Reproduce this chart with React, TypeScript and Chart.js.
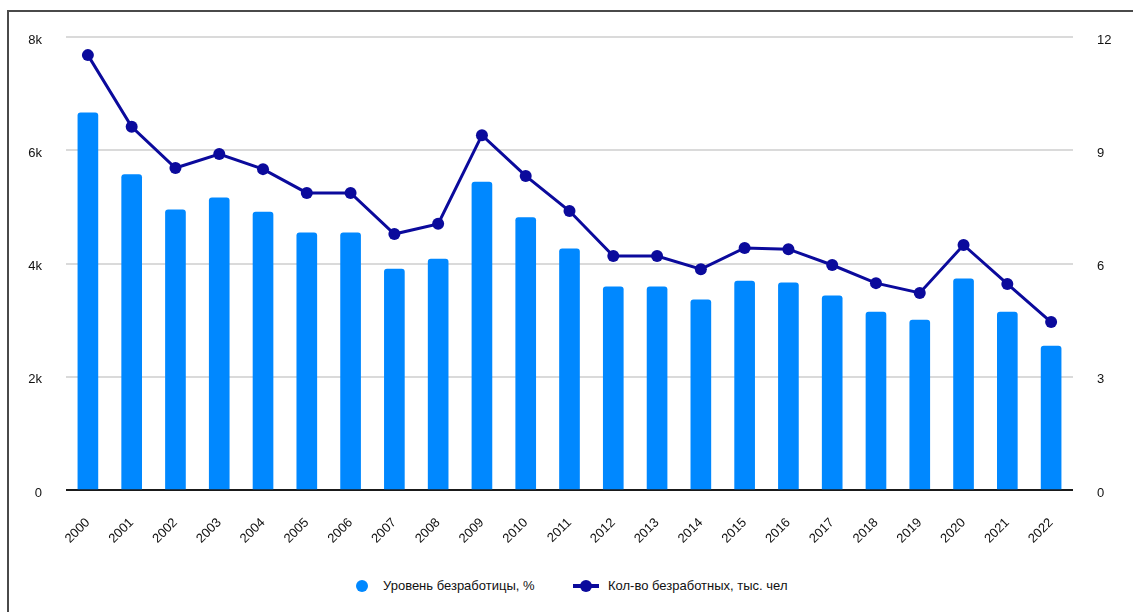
import React, { useEffect, useRef } from "react";
import { Chart, registerables } from "chart.js";

Chart.register(...registerables);

const years = ["2000","2001","2002","2003","2004","2005","2006","2007","2008","2009","2010","2011","2012","2013","2014","2015","2016","2017","2018","2019","2020","2021","2022"];
const rateValues = [6660, 5570, 4950, 5160, 4910, 4540, 4540, 3900, 4080, 5440, 4810, 4260, 3590, 3590, 3360, 3690, 3660, 3430, 3140, 3000, 3730, 3140, 2540];
const countValues = [11.52, 9.62, 8.53, 8.9, 8.5, 7.87, 7.87, 6.78, 7.05, 9.4, 8.32, 7.39, 6.2, 6.2, 5.85, 6.41, 6.38, 5.96, 5.48, 5.22, 6.49, 5.46, 4.45];
const leftTicks = [0, 2000, 4000, 6000, 8000];
const rightTicks = [0, 3, 6, 9, 12];
const rateLabel = "Уровень безработицы, %";
const countLabel = "Кол-во безработных, тыс. чел";

const BAR_COLOR = "#0088ff";
const LINE_COLOR = "#0b0a9c";
const TEXT_COLOR = "#111111";
const FONT = "'Liberation Sans', Arial, sans-serif";

export default function App() {
  const ref = useRef<HTMLCanvasElement | null>(null);
  useEffect(() => {
    if (!ref.current) return;
    const chart = new Chart(ref.current, {
      data: {
        labels: years,
        datasets: [
          {
            type: "line",
            label: countLabel,
            data: countValues,
            yAxisID: "y1",
            borderColor: LINE_COLOR,
            backgroundColor: LINE_COLOR,
            borderWidth: 3,
            pointRadius: 6,
            pointBorderWidth: 0,
            pointBackgroundColor: LINE_COLOR,
            tension: 0,
            order: 0,
          },
          {
            type: "bar",
            label: rateLabel,
            data: rateValues,
            yAxisID: "y",
            backgroundColor: BAR_COLOR,
            borderRadius: 3,
            borderSkipped: "start",
            barThickness: 20,
            order: 1,
          },
        ],
      },
      options: {
        animation: false,
        responsive: false,
        layout: { padding: { top: 37, left: 0, right: 0, bottom: 0 } },
        plugins: { legend: { display: false }, tooltip: { enabled: false } },
        scales: {
          x: {
            grid: { display: false, drawTicks: false },
            border: { display: false },
            ticks: {
              maxRotation: 45,
              minRotation: 45,
              padding: 25,
              color: TEXT_COLOR,
              font: { family: FONT, size: 13 },
            },
            afterFit: (s: any) => { s.height = 70; },
          },
          y: {
            position: "left",
            min: 0,
            max: 8000,
            afterBuildTicks: (s: any) => { s.ticks = leftTicks.map((v) => ({ value: v })); },
            grid: {
              drawTicks: false,
              color: (c: any) => (c.tick && c.tick.value === 0 ? "#1a1a1a" : "#dadada"),
              lineWidth: 2,
            },
            border: { display: false },
            ticks: {
              padding: 24,
              labelOffset: 3,
              color: TEXT_COLOR,
              font: { family: FONT, size: 13 },
              callback: (v: any) => (Number(v) === 0 ? "0" : Number(v) / 1000 + "k"),
            },
            afterFit: (s: any) => { s.width = 66; },
          },
          y1: {
            position: "right",
            min: 0,
            max: 12,
            afterBuildTicks: (s: any) => { s.ticks = rightTicks.map((v) => ({ value: v })); },
            grid: { display: false, drawTicks: false },
            border: { display: false },
            ticks: {
              padding: 24,
              labelOffset: 3,
              color: TEXT_COLOR,
              font: { family: FONT, size: 13 },
            },
            afterFit: (s: any) => { s.width = 60; },
          },
        },
      },
    });
    return () => chart.destroy();
  }, []);

  const textStyle: React.CSSProperties = {
    position: "absolute",
    top: 578,
    fontFamily: FONT,
    fontSize: 13,
    color: TEXT_COLOR,
    lineHeight: "16px",
    whiteSpace: "nowrap",
  };

  return (
    <div style={{ position: "fixed", left: 0, top: 0, width: 1133, height: 612, overflow: "hidden", background: "#fff" }}>
      <div style={{ position: "absolute", left: 7, top: 10, width: 1300, height: 800, borderTop: "2px solid #4a4a4a", borderLeft: "2px solid #4a4a4a" }} />
      <canvas ref={ref} width={1133} height={560} style={{ position: "absolute", left: 0, top: 0 }} />
      <div style={{ position: "absolute", left: 356, top: 580, width: 12, height: 12, borderRadius: 6, background: BAR_COLOR }} />
      <div style={{ ...textStyle, left: 383 }}>{rateLabel}</div>
      <div style={{ position: "absolute", left: 573, top: 584, width: 26, height: 4, background: LINE_COLOR }} />
      <div style={{ position: "absolute", left: 580, top: 580, width: 12, height: 12, borderRadius: 6, background: LINE_COLOR }} />
      <div style={{ ...textStyle, left: 608 }}>{countLabel}</div>
    </div>
  );
}
